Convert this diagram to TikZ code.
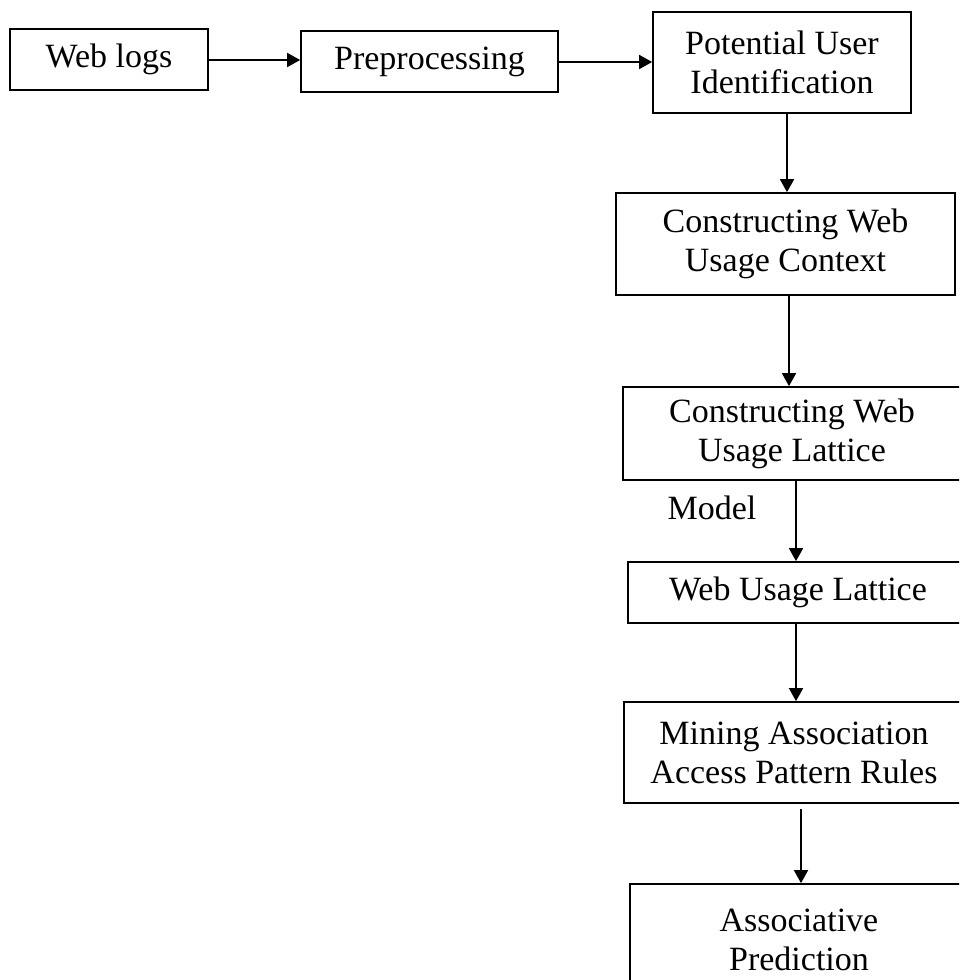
\documentclass[tikz,border=0pt]{standalone}
\usepackage{fontspec}
\setmainfont{Liberation Serif}
\usetikzlibrary{arrows.meta}
\tikzset{
  box/.style={draw, line width=1.7pt, inner sep=0pt, align=center,
    font=\fontsize{34}{39}\selectfont},
  conn/.style={line width=1.7pt, -{Triangle[length=13pt,width=14pt]}},
  lbl/.style={inner sep=0pt, font=\fontsize{34}{39}\selectfont}
}
\begin{document}
\begin{tikzpicture}[x=1pt,y=-1pt]
\useasboundingbox (0,0) rectangle (959,980);
\clip (0,0) rectangle (959,980);
\node[box, minimum width=198pt, minimum height=61pt] (A) at (109,59.5) {Web logs};
\node[box, minimum width=257pt, minimum height=61pt] (B) at (429.5,61.5) {Preprocessing};
\node[box, minimum width=258pt, minimum height=101pt] (C) at (782,62.5) {Potential User\\Identification};
\node[box, minimum width=339pt, minimum height=102pt] (D) at (785.5,244) {Constructing Web\\Usage Context};
\node[box, minimum width=338pt, minimum height=93pt] (E) at (792,433.5) {Constructing Web\\Usage Lattice};
\node[box, minimum width=340pt, minimum height=61pt] (F) at (798,592.5) {Web Usage Lattice};
\node[box, minimum width=340pt, minimum height=101pt] (G) at (794,752.5) {Mining Association\\Access Pattern Rules};
\node[box, minimum width=338pt, minimum height=112pt] (H) at (799,940) {Associative\\Prediction};
\node[lbl] (M) at (712,508) {Model};
\draw[conn] ([yshift=-0.5pt]A.east) -- ([yshift=-0.5pt]A.east -| B.west);
\draw[conn] ([yshift=-0.5pt]B.east) -- ([yshift=-0.5pt]B.east -| C.west);
\draw[conn] ([xshift=5pt]C.south) -- ([xshift=5pt]C.south |- D.north);
\draw[conn] ([xshift=3.5pt]D.south) -- ([xshift=3.5pt]D.south |- E.north);
\draw[conn] ([xshift=4pt]E.south) -- ([xshift=4pt]E.south |- F.north);
\draw[conn] ([xshift=-2pt]F.south) -- ([xshift=-2pt]F.south |- G.north);
\coordinate (g1) at ([xshift=7pt,yshift=-5pt]G.south);
\draw[conn] (g1) -- (g1 |- H.north);
\end{tikzpicture}
\end{document}
